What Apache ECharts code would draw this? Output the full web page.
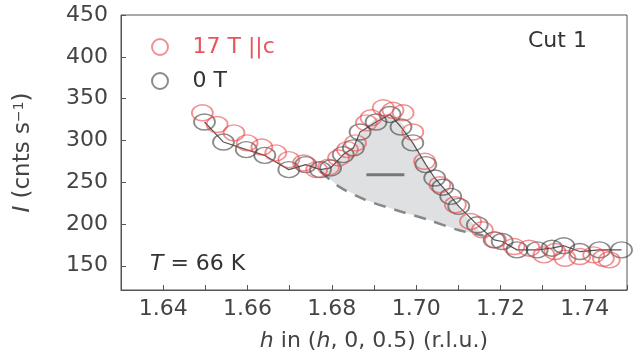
<!DOCTYPE html>
<html>
<head>
<meta charset="utf-8">
<script src="https://cdn.jsdelivr.net/npm/echarts@6/dist/echarts.min.js"></script>
<style>
  body { margin: 0; background: #fff; }
  #chart { width: 634px; height: 357px; }
</style>
</head>
<body>
<div id="chart"></div>
<script>
// 17 T || c
const redH = [1.6493, 1.6528, 1.6568, 1.6599, 1.6634, 1.6667, 1.6698, 1.6733, 1.6764, 1.6792, 1.6816, 1.6837, 1.6856, 1.6882, 1.6893, 1.6922, 1.6945, 1.6969, 1.6992, 1.7020, 1.7056, 1.7093, 1.7129, 1.7157, 1.7188, 1.7232, 1.7268, 1.7303, 1.7329, 1.7353, 1.7388, 1.7421, 1.7444, 1.7458];
const redI = [333, 319, 309, 297, 292, 285, 277, 273, 265, 268, 279, 289, 297, 321, 327, 339, 336, 333, 310, 275, 247, 223, 203, 193, 181, 173, 171, 163, 167, 159, 161, 163, 159, 157];

// 0 T
const blackH = [1.6498, 1.6543, 1.6597, 1.6641, 1.6698, 1.6738, 1.6773, 1.6797, 1.6827, 1.6851, 1.6867, 1.6905, 1.6938, 1.6964, 1.6992, 1.7023, 1.7044, 1.7063, 1.7082, 1.7101, 1.7145, 1.7185, 1.7204, 1.7239, 1.7287, 1.7322, 1.7350, 1.7388, 1.7435, 1.7487];
const blackI = [322, 298, 289, 282, 265, 271, 265, 267, 283, 291, 310, 322, 331, 316, 297, 271, 255, 244, 233, 221, 199, 181, 179, 169, 169, 171, 174, 167, 169, 169];

// shaded peak: upper edge and dashed background
const peakH = [1.6773, 1.6800, 1.6830, 1.6855, 1.6870, 1.6900, 1.6930, 1.6950, 1.6970, 1.6990, 1.7020, 1.7045, 1.7065, 1.7085, 1.7105, 1.7130, 1.7160];
const peakI = [263, 270, 284, 295, 310, 325, 331, 330, 318, 300, 274, 255, 244, 232, 218, 203, 186];
const baseH = [1.6773, 1.6816, 1.6879, 1.6950, 1.7035, 1.7098, 1.7160];
const baseI = [263, 245, 229, 217, 204, 193, 186];

// width marker
const fwhmH = [1.6882, 1.6972];
const fwhmI = [259, 259];

const yTicks = [150, 200, 250, 300, 350, 400, 450];

const pairs = (xs, ys) => xs.map((x, i) => [x, ys[i]]);
const ring = "path://M0,50A50,50,0,1,1,100,50A50,50,0,1,1,0,50Z";
const font = "DejaVu Sans";
const ink = "#444";

const chart = echarts.init(document.getElementById("chart"));
chart.setOption({
  animation: false,
  textStyle: { fontFamily: font },
  grid: { left: 121, right: 7, top: 15, bottom: 67, show: true, borderColor: "#555", borderWidth: 1 },
  legend: {
    orient: "vertical",
    left: 146,
    top: 31,
    itemWidth: 23,
    itemHeight: 16,
    itemGap: 12,
    selectedMode: false,
    textStyle: { fontSize: 22, padding: [0, 0, 0, 16] },
    data: [
      { name: "17 T ||c", textStyle: { color: "#e8555a" } },
      { name: "0 T", textStyle: { color: "#333" } },
    ],
  },
  xAxis: {
    type: "value",
    min: 1.63,
    max: 1.75,
    interval: 0.01,
    splitLine: { show: false },
    axisLine: { lineStyle: { color: "#555" } },
    axisTick: { inside: true, length: 5, lineStyle: { color: "#555" } },
    axisLabel: {
      fontSize: 22,
      color: ink,
      margin: 8,
      formatter: (v) => (Math.round(v * 100) % 2 === 0 ? v.toFixed(2) : ""),
    },
    name: "{i|h} in ({i|h}, 0, 0.5) (r.l.u.)",
    nameLocation: "middle",
    nameGap: 40,
    nameTextStyle: {
      fontSize: 22,
      color: ink,
      rich: { i: { fontStyle: "italic", fontSize: 22, color: ink } },
    },
  },
  yAxis: {
    type: "value",
    min: 121,
    max: 450,
    splitLine: { show: false },
    axisLine: { lineStyle: { color: "#555" } },
    axisTick: { inside: true, length: 5, customValues: yTicks, lineStyle: { color: "#555" } },
    axisLabel: { fontSize: 22, color: ink, margin: 13, customValues: yTicks },
    name: "{i|I} (cnts s{sup|−1})",
    nameLocation: "middle",
    nameRotate: 90,
    nameGap: 86,
    nameTextStyle: {
      fontSize: 23,
      color: ink,
      rich: {
        i: { fontStyle: "italic", fontSize: 23, color: ink },
        sup: { fontSize: 14, color: ink, verticalAlign: "top", padding: [0, 0, 9, 0] },
      },
    },
  },
  graphic: [
    { type: "text", left: 528, top: 30, style: { text: "Cut 1", font: `22px '${font}'`, fill: "#333" } },
    {
      type: "text",
      left: 150,
      top: 253,
      style: {
        text: "{i|T} = 66 K",
        font: `22px '${font}'`,
        fill: "#333",
        rich: { i: { fontStyle: "italic", fontSize: 22, fontFamily: font, fill: "#333" } },
      },
    },
  ],
  series: [
    {
      type: "custom",
      silent: true,
      z: 1,
      data: [[peakH[0], peakI[0]]],
      renderItem: (params, api) => {
        const top = peakH.map((h, i) => api.coord([h, peakI[i]]));
        const bottom = baseH.map((h, i) => api.coord([h, baseI[i]])).reverse();
        return { type: "polygon", shape: { points: top.concat(bottom) }, style: { fill: "#dfe0e2" } };
      },
    },
    {
      type: "line",
      silent: true,
      z: 2,
      data: pairs(baseH, baseI),
      symbol: "none",
      smooth: 0.3,
      lineStyle: { color: "#888", width: 2.5, type: [12, 9] },
    },
    {
      type: "line",
      silent: true,
      z: 2,
      data: pairs(fwhmH, fwhmI),
      symbol: "none",
      lineStyle: { color: "#777", width: 3 },
    },
    {
      type: "line",
      silent: true,
      z: 3,
      data: pairs(blackH, blackI),
      symbol: "none",
      lineStyle: { color: "#555", width: 1.2 },
    },
    {
      name: "0 T",
      type: "scatter",
      z: 4,
      data: pairs(blackH, blackI),
      symbol: ring,
      symbolSize: [21, 16],
      itemStyle: { color: "rgba(0,0,0,0)", borderColor: "rgba(60,60,60,0.75)", borderWidth: 1.6 },
    },
    {
      name: "17 T ||c",
      type: "scatter",
      z: 5,
      data: pairs(redH, redI),
      symbol: ring,
      symbolSize: [21, 16],
      itemStyle: { color: "rgba(0,0,0,0)", borderColor: "rgba(232,70,75,0.75)", borderWidth: 1.6 },
    },
  ],
});
</script>
</body>
</html>
